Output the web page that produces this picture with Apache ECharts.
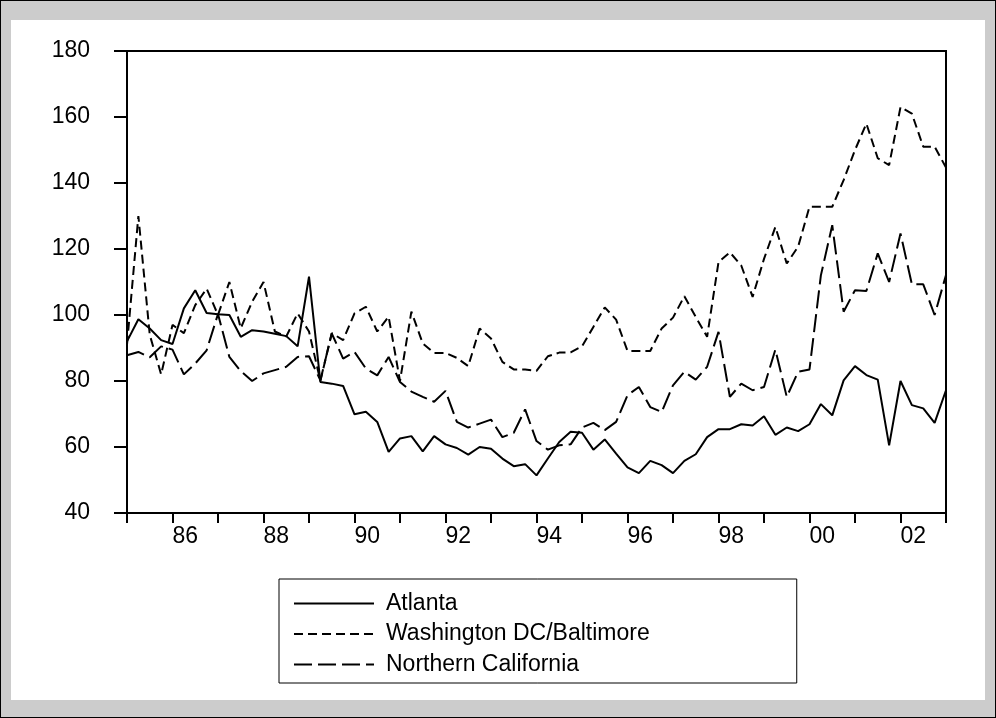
<!DOCTYPE html>
<html>
<head>
<meta charset="utf-8">
<script src="https://cdn.jsdelivr.net/npm/echarts@6/dist/echarts.min.js"></script>
<style>
  html, body { margin: 0; padding: 0; }
  #frame { position: relative; width: 996px; height: 718px; box-sizing: border-box;
           background: #cccccc; border: 1px solid #000; }
  #panel { position: absolute; left: 10px; top: 19px; width: 974px; height: 680px; background: #fff; }
  #chart { position: absolute; left: -1px; top: -1px; width: 996px; height: 718px; }
</style>
</head>
<body>
<div id="frame">
  <div id="panel"></div>
  <div id="chart"></div>
</div>
<script>
// Quarterly index, 1985Q1 .. 2003Q1
const startYear = 1985;
const quarterCount = 73;
const quarters = [];
for (let i = 0; i < quarterCount; i++) {
  quarters.push((startYear + Math.floor(i / 4)) + 'Q' + (i % 4 + 1));
}

const seriesNames = ['Atlanta', 'Washington DC/Baltimore', 'Northern California'];

const atlanta = [
  92, 98.7, 95.9, 92.4, 91.2, 102, 107.5, 100.6, 100.2, 100, 93.4, 95.4,
  95, 94.3, 93.6, 90.5, 111.6, 79.7, 79.2, 78.5, 69.9, 70.7, 67.6, 58.5,
  62.6, 63.3, 58.7, 63.3, 60.8, 59.7, 57.7, 60, 59.5, 56.5, 54.2, 54.8,
  51.4, 56.5, 61.5, 64.6, 64.3, 59.2, 62.3, 58, 53.8, 52.1, 55.8, 54.5,
  52.1, 55.8, 57.8, 63, 65.4, 65.4, 66.9, 66.5, 69.3, 63.7, 65.9, 64.8,
  66.9, 73, 69.6, 80.2, 84.5, 81.8, 80.4, 60.5, 80, 72.7, 71.7, 67.3,
  77.2
];

const washington = [
  91, 130, 94, 82, 97, 94.5, 103, 108, 100, 110, 96, 104,
  110, 95, 93.5, 100.5, 95, 80, 94.5, 92.4, 100.5, 102.5, 95, 99.5,
  80, 101, 91.4, 88.5, 88.5, 87, 84.5, 95.9, 92.9, 85.8, 83.5, 83.5,
  83.1, 87.5, 88.6, 88.7, 90.5, 96.4, 102.3, 98.6, 89.1, 89.1, 89.1, 95.9,
  99.2, 105.7, 99.4, 93.4, 116, 119, 115, 105.5, 117, 126.7, 115.6, 120.7,
  132.8, 132.8, 132.8, 140.9, 150, 158, 147.5, 145.4, 163, 161, 151, 151,
  144.7
];

const norCal = [
  87.8, 88.8, 87.2, 90.5, 89.5, 82, 85.3, 89.3, 100.3, 87.3, 83, 80,
  82.3, 83.3, 84.3, 87.3, 87.5, 80.2, 94.4, 86.8, 88.8, 83.8, 81.7, 87.3,
  79.7, 76.8, 75.2, 73.7, 77, 67.6, 65.9, 67.1, 68.3, 63, 64.3, 71.4,
  61.8, 59.2, 60.5, 60.8, 65.9, 67.3, 65.1, 67.6, 75.7, 78.2, 72.1, 70.6,
  78.7, 82.8, 80.4, 84.3, 94.9, 75.2, 79.2, 77.2, 78.2, 89.5, 75.2, 82.8,
  83.5, 112, 127.2, 101, 107.5, 107.3, 118.7, 110, 124.7, 109.3, 109.3, 100,
  112.1
];

const FONT = "'Liberation Sans', Arial, sans-serif";
const FONT_SIZE = 23;
const INK = '#000';

function lineSeries(name, data, dash) {
  return {
    name: name,
    type: 'line',
    data: data,
    symbol: 'none',
    showSymbol: false,
    silent: true,
    lineStyle: { color: INK, width: 2, type: dash },
    itemStyle: { color: INK }
  };
}

const chart = echarts.init(document.getElementById('chart'), null, { renderer: 'canvas' });
chart.setOption({
  animation: false,
  backgroundColor: 'transparent',
  textStyle: { fontFamily: FONT, color: INK },
  grid: {
    left: 127, top: 51, width: 819, height: 462,
    show: true, borderColor: INK, borderWidth: 2, backgroundColor: 'transparent'
  },
  xAxis: {
    type: 'category',
    data: quarters,
    boundaryGap: false,
    axisLine: { show: true, lineStyle: { color: INK, width: 2 } },
    axisTick: { show: true, interval: 3, length: 10, lineStyle: { color: INK, width: 2 } },
    axisLabel: {
      interval: function (i) { return i % 8 === 4; },
      formatter: function (v) { return v.slice(2, 4); },
      align: 'left',
      margin: 12,
      fontSize: FONT_SIZE,
      fontFamily: FONT,
      color: INK
    },
    splitLine: { show: false }
  },
  yAxis: {
    type: 'value',
    min: 40, max: 180, interval: 20,
    axisLine: { show: true, lineStyle: { color: INK, width: 2 } },
    axisTick: { show: true, length: 13, lineStyle: { color: INK, width: 2 } },
    axisLabel: { margin: 37, fontSize: FONT_SIZE, fontFamily: FONT, color: INK },
    splitLine: { show: false }
  },
  legend: {
    orient: 'vertical',
    left: 279, top: 579,
    padding: [13, 147, 7, 14],
    itemWidth: 80, itemHeight: 22, itemGap: 7.5,
    borderColor: INK, borderWidth: 1, backgroundColor: '#fff',
    itemStyle: { opacity: 0, borderWidth: 0 },
    textStyle: { fontSize: FONT_SIZE, fontFamily: FONT, color: INK, padding: [0, 0, 0, 7] },
    data: seriesNames
  },
  series: [
    lineSeries(seriesNames[0], atlanta, 'solid'),
    lineSeries(seriesNames[1], washington, [9, 5]),
    lineSeries(seriesNames[2], norCal, [18, 6])
  ]
});
</script>
</body>
</html>
